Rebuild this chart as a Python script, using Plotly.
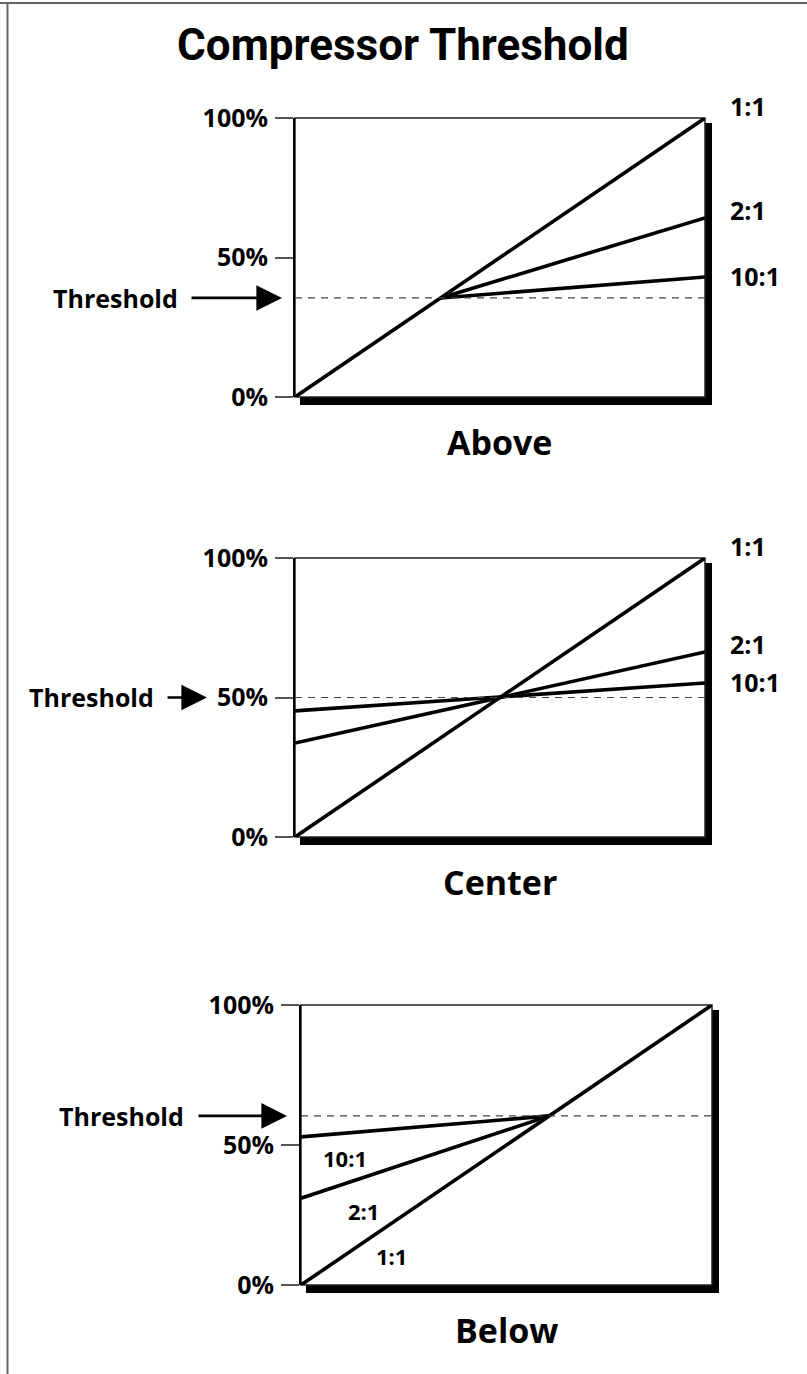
import plotly.graph_objects as go

# ---- data -------------------------------------------------------------
ratios = ["1:1", "2:1", "10:1"]
tick_vals = [0, 50, 100]
tick_text = ["0%", "50%", "100%"]
panel_names = ["Above", "Center", "Below"]
thresholds = [35.5, 50.0, 60.4]

# Above: compression kicks in above a low threshold
above_x = {"1:1": [0, 100], "2:1": [35.5, 100], "10:1": [35.5, 100]}
above_y = {"1:1": [0, 100], "2:1": [35.5, 64.2], "10:1": [35.5, 43.0]}

# Center: threshold at 50%
center_x = {"1:1": [0, 100], "2:1": [0, 100], "10:1": [0, 100]}
center_y = {"1:1": [0, 100], "2:1": [33.7, 66.3], "10:1": [45.2, 55.2]}

# Below: threshold up high
below_x = {"1:1": [0, 100], "2:1": [0, 60.4], "10:1": [0, 60.4]}
below_y = {"1:1": [0, 100], "2:1": [31.0, 60.4], "10:1": [52.9, 60.4]}

# ---- layout constants (pixels) ---------------------------------------
W, H = 807, 1374
FONT = "Open Sans, Noto Sans, sans-serif"
TITLE_FONT = "Roboto, Open Sans, sans-serif"

boxes = [(295, 118, 705, 397), (295, 558, 705, 837), (301, 1005, 712, 1285)]
series_x = [above_x, center_x, below_x]
series_y = [above_y, center_y, below_y]


def fx(p):
    return p / W


def fy(p):
    return 1 - p / H


fig = go.Figure()
shapes = []
annotations = []

for i, (box, name, thr) in enumerate(zip(boxes, panel_names, thresholds), start=1):
    left, top, right, bottom = box
    sfx = "" if i == 1 else str(i)
    xref, yref = "x" + sfx, "y" + sfx

    for r in ratios:
        fig.add_trace(go.Scatter(
            x=series_x[i - 1][r], y=series_y[i - 1][r], mode="lines",
            line=dict(color="black", width=3.6), xaxis=xref, yaxis=yref,
            showlegend=False, hoverinfo="skip"))

    # threshold dashed line
    fig.add_trace(go.Scatter(
        x=[0, 100], y=[thr, thr], mode="lines",
        line=dict(color="#444", width=1.2, dash="7px,6px"),
        xaxis=xref, yaxis=yref, showlegend=False, hoverinfo="skip"))

    fig.update_layout({
        "xaxis" + sfx: dict(domain=[fx(left), fx(right)], range=[0, 100], visible=False,
                           anchor=yref, fixedrange=True, automargin=False),
        "yaxis" + sfx: dict(domain=[fy(bottom), fy(top)], range=[0, 100], anchor=xref,
                           showgrid=False, zeroline=False, showline=True,
                           linecolor="black", linewidth=2, automargin=False,
                           ticks="outside", ticklen=18, tickwidth=1.5, tickcolor="#555",
                           tickvals=tick_vals, ticktext=["<b>%s</b>" % t for t in tick_text],
                           tickfont=dict(family=FONT, size=25, color="black"),
                           ticklabelstandoff=2, fixedrange=True),
    })

    # drop shadow + box
    shapes.append(dict(type="rect", xref="paper", yref="paper", layer="below",
                       x0=fx(left + 5), x1=fx(right + 7), y0=fy(bottom + 8), y1=fy(top + 5),
                       fillcolor="black", line=dict(width=0)))
    shapes.append(dict(type="rect", xref="paper", yref="paper", layer="below",
                       x0=fx(left), x1=fx(right), y0=fy(bottom), y1=fy(top),
                       fillcolor="white", line=dict(color="#222", width=1.5)))

    # panel caption
    annotations.append(dict(text="<b>%s</b>" % name, xref="paper", yref="paper",
                            x=fx((left + right) / 2), y=fy(bottom + 45),
                            xanchor="center", yanchor="middle", showarrow=False,
                            font=dict(family=FONT, size=34, color="black")))

# ratio labels, right side of the first two panels
label_shift = {"1:1": 12, "2:1": 8, "10:1": 1}
for i in (1, 2):
    sfx = "" if i == 1 else str(i)
    for r in ratios:
        annotations.append(dict(text="<b>%s</b>" % r, xref="x%s domain" % sfx, yref="y" + sfx,
                                x=1.055, y=series_y[i - 1][r][-1], yshift=label_shift[r],
                                xanchor="left", yanchor="middle", showarrow=False,
                                font=dict(family=FONT, size=25, color="black")))

# ratio labels inside the Below panel
below_labels = {"10:1": (10.7, 45.4), "2:1": (15.1, 26.4), "1:1": (22.1, 10.4)}
for r, (lx, ly) in below_labels.items():
    annotations.append(dict(text="<b>%s</b>" % r, xref="x3", yref="y3", x=lx, y=ly,
                            xanchor="center", yanchor="middle", showarrow=False,
                            font=dict(family=FONT, size=22, color="black")))

# threshold arrows + text
arrow_specs = [
    # (panel index, text right edge px, arrow tail px, arrow tip px)
    (1, 180, 190, 282),
    (2, 156, 166, 207),
    (3, 186, 197, 287),
]
for i, text_right, tail, tip in arrow_specs:
    sfx = "" if i == 1 else str(i)
    thr = thresholds[i - 1]
    annotations.append(dict(text="<b>Threshold</b>", xref="paper", yref="y" + sfx,
                            x=fx(text_right), y=thr, xanchor="right", yanchor="middle",
                            showarrow=False, font=dict(family=FONT, size=25, color="black")))
    annotations.append(dict(text="", xref="paper", yref="y" + sfx, x=fx(tip), y=thr,
                            ax=tail - tip, ay=0, showarrow=True, arrowhead=2,
                            arrowsize=1.9, arrowwidth=2.7, arrowcolor="black",
                            standoff=0, startstandoff=0))

# title
annotations.append(dict(text="<b>Compressor Threshold</b>", xref="paper", yref="paper",
                        x=fx(403), y=fy(45), xanchor="center", yanchor="middle",
                        showarrow=False,
                        font=dict(family=TITLE_FONT, size=44, color="black")))

# outer frame (top and left edges only)
shapes.append(dict(type="line", xref="paper", yref="paper", x0=0, x1=1, y0=fy(3), y1=fy(3),
                   line=dict(color="#666", width=2)))
shapes.append(dict(type="line", xref="paper", yref="paper", x0=fx(7.5), x1=fx(7.5),
                   y0=0, y1=fy(3), line=dict(color="#666", width=2)))

fig.update_layout(
    template="none",
    width=W, height=H, autosize=False,
    margin=dict(l=0, r=0, t=0, b=0, pad=0),
    paper_bgcolor="white", plot_bgcolor="rgba(0,0,0,0)",
    shapes=shapes, annotations=annotations,
    showlegend=False,
)

fig.write_html("out.html", config={"displayModeBar": False},
               post_script="document.body.style.margin='0';")
